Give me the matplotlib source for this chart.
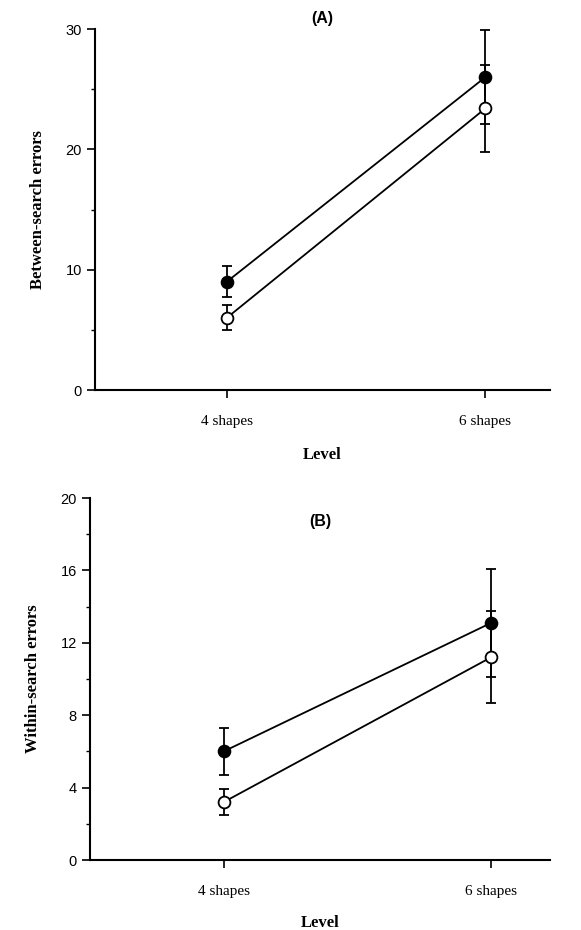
import matplotlib
matplotlib.use("Agg")
import matplotlib.pyplot as plt
from matplotlib.ticker import MultipleLocator

levels = ["4 shapes", "6 shapes"]
a_filled = [9.0, 26.0]; a_filled_err = [1.3, 3.9]
a_open = [6.0, 23.4]; a_open_err = [1.05, 3.6]
b_filled = [6.0, 13.1]; b_filled_err = [1.3, 3.0]
b_open = [3.2, 11.2]; b_open_err = [0.7, 2.55]

W, H = 581, 930
fig = plt.figure(figsize=(W/100, H/100), dpi=100)

def panel(rect, filled, ferr, opn, oerr, ymax, major, ylabel, title, xlim, ty, xpad):
    ax = fig.add_axes(rect)
    x = [0, 1]
    for y, e, fc in [(filled, ferr, "black"), (opn, oerr, "white")]:
        ax.errorbar(x, y, yerr=e, color="black", lw=1.3, capsize=3.5, capthick=1.3,
                    marker="o", ms=8.5, mfc=fc, mec="black", mew=1.3, zorder=3)
    ax.set_ylim(0, ymax)
    ax.set_xlim(*xlim)
    ax.yaxis.set_major_locator(MultipleLocator(major))
    ax.yaxis.set_minor_locator(MultipleLocator(major/2))
    ax.set_xticks(x)
    ax.set_xticklabels(levels, family="Liberation Serif", fontsize=11)
    for lab in ax.get_yticklabels():
        lab.set_family("Liberation Sans"); lab.set_fontsize(10.5)
    ax.spines["top"].set_visible(False)
    ax.spines["right"].set_visible(False)
    ax.spines["left"].set_linewidth(1.5)
    ax.spines["bottom"].set_linewidth(1.5)
    ax.tick_params(axis="y", which="major", length=6, width=1.2)
    ax.tick_params(axis="y", which="minor", length=3, width=1)
    ax.tick_params(axis="x", length=6, width=1.2, direction="out", pad=12)
    ax.set_ylabel(ylabel, family="Liberation Serif", fontweight="bold", fontsize=12, labelpad=14)
    ax.set_xlabel("Level", family="Liberation Serif", fontweight="bold", fontsize=12, labelpad=xpad)
    ax.text(0.5, ty, title, transform=ax.transAxes, ha="center", va="center",
            family="Liberation Sans", fontweight="bold", fontsize=11.5)
    return ax

panel([95/W, 1-390/H, 455/W, 361/H], a_filled, a_filled_err, a_open, a_open_err,
      30, 10, "Between-search errors", "(A)", (-0.51, 1.25), 1.03, 14)
panel([90/W, 1-860/H, 460/W, 362/H], b_filled, b_filled_err, b_open, b_open_err,
      20, 4, "Within-search errors", "(B)", (-0.5, 1.22), 0.935, 12)

fig.savefig("out.png", dpi=100)
